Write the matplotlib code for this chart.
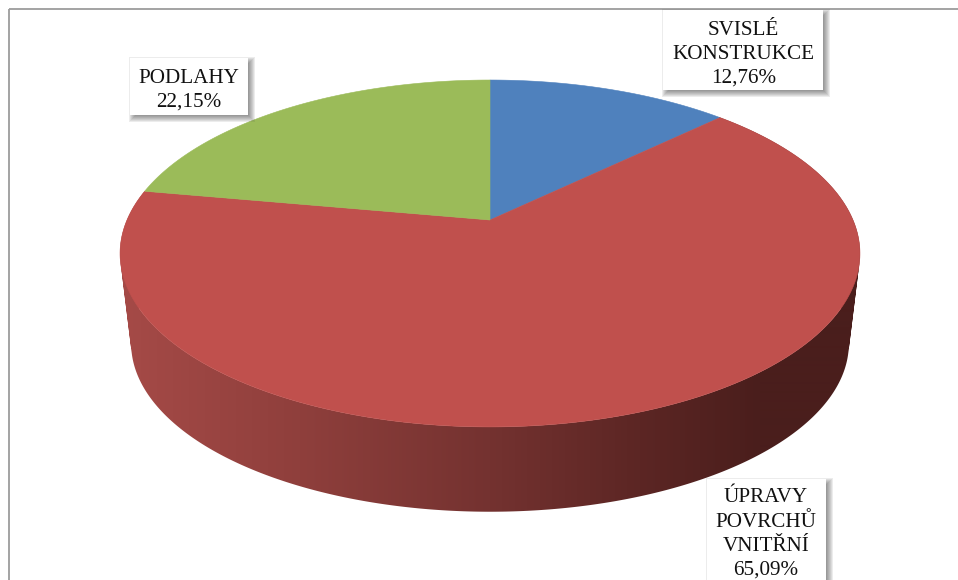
import numpy as np
import matplotlib
matplotlib.use("Agg")
import matplotlib.pyplot as plt
from matplotlib.patches import Polygon, Rectangle
from matplotlib.path import Path
from matplotlib.colors import to_rgb

categories = ["SVISLÉ\nKONSTRUKCE", "ÚPRAVY\nPOVRCHŮ\nVNITŘNÍ", "PODLAHY"]
values = [12.76, 65.09, 22.15]
value_labels = ["12,76%", "65,09%", "22,15%"]
colors = ["#4F81BD", "#C0504D", "#9BBB59"]

# label box pixel rectangles (x0, y0, x1, y1)
boxes = [(663, 10, 823, 90), (707, 479, 826, 600), (130, 58, 248, 115)]
# x centre and baseline of the last text line
text_anchors = [(743.5, 83), (766, 575), (189, 107)]

grad_x = [125, 300, 490, 640, 760, 860]
grad_c = ["#A54A47", "#8F3F3C", "#743230", "#5C2624", "#4A1E1C", "#4A1E1C"]

plt.rcParams["font.family"] = ["Liberation Serif", "DejaVu Serif"]
fig = plt.figure(figsize=(9.58, 5.8), dpi=100)
ax = fig.add_axes([0, 0, 1, 1])

# chart frame (runs off the right and bottom edge)
ax.plot([9, 9], [600, 8.5], color="#9C9C9C", lw=1.3, zorder=1, solid_capstyle="butt")
ax.plot([9, 970], [8.5, 8.5], color="#9C9C9C", lw=1.3, zorder=1, solid_capstyle="butt")

CX = 490.0
A, B, K = 363.0, 167.0, 0.193


def project(theta, y0=220.0, s=1.0):
    """Perspective projection of a disc point; theta clockwise from 12 o'clock."""
    u, v = np.sin(theta), np.cos(theta)
    d = 1 + K * v
    return CX + s * A * u / d, y0 - s * B * v / d


edges = np.deg2rad(np.concatenate([[0], np.cumsum(values)]) * 3.6)

# side wall of the large slice: horizontal gradient clipped to the swept wall
rgb = np.array([to_rgb(c) for c in grad_c])
columns = np.arange(958) + 0.5
strip = np.stack([np.interp(columns, grad_x, rgb[:, j]) for j in range(3)], axis=-1)[np.newaxis, :, :]
img = ax.imshow(strip, extent=(0, 958, 580, 0), aspect="auto", zorder=2, interpolation="bilinear")

ts = np.linspace(edges[1], edges[2], 500)
xt, yt = project(ts)
xb, yb = project(ts, y0=311.0, s=0.97)
quads = []
for i in range(len(ts) - 1):
    q = np.array([(xt[i], yt[i]), (xb[i], yb[i]), (xb[i + 1], yb[i + 1]), (xt[i + 1], yt[i + 1])])
    area = 0.5 * np.sum(q[:, 0] * np.roll(q[:, 1], -1) - np.roll(q[:, 0], -1) * q[:, 1])
    if area < 0:
        q = q[::-1]
    quads.append(Path(np.vstack([q, q[0]])))
img.set_clip_path(Path.make_compound_path(*quads), transform=ax.transData)

# top faces
for i, c in enumerate(colors):
    t = np.linspace(edges[i], edges[i + 1], 300)
    x, y = project(t)
    pts = np.vstack([[CX, 220.0], np.column_stack([x, y])])
    ax.add_patch(Polygon(pts, closed=True, facecolor=c, edgecolor=c, lw=0.4, zorder=3))

# labels with soft shadow
for (x0, y0, x1, y1), cat, val, (tx, ty) in zip(boxes, categories, value_labels, text_anchors):
    for grow in np.arange(4.0, -5.0, -1.0):
        ax.add_patch(Rectangle((x0 + 3 - grow, y0 + 3 - grow), x1 - x0 + 2 * grow, y1 - y0 + 2 * grow,
                               facecolor="#303030", edgecolor="none", alpha=0.09, zorder=4))
    ax.add_patch(Rectangle((x0, y0), x1 - x0, y1 - y0, facecolor="white", edgecolor="none", zorder=5))
    ax.text(tx, ty, cat + "\n" + val, ha="center", va="baseline", fontsize=15.2, color="#111111",
            linespacing=1.37, multialignment="center", zorder=6)

ax.set_xlim(0, 958)
ax.set_ylim(580, 0)
ax.axis("off")

fig.savefig("out.png", dpi=100, facecolor="white")
